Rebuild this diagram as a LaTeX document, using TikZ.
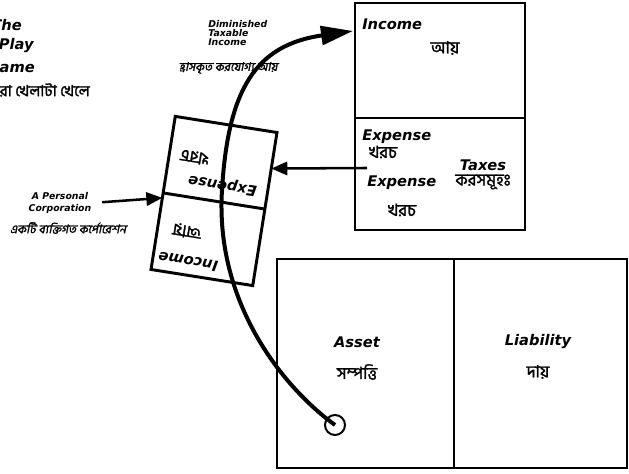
\documentclass[tikz,border=0pt]{standalone}
\usepackage{fontspec}
\setsansfont{DejaVu Sans}
\newfontfamily\bn{Hind Siliguri}[Script=Bengali,FakeBold=1.6]
\newfontfamily\bnsl{Hind Siliguri}[Script=Bengali,FakeSlant=0.2,FakeBold=1.6]
\usetikzlibrary{arrows.meta,positioning}

\begin{document}
\begin{tikzpicture}[x=0.75pt,y=0.75pt,
    panel/.style={draw,line width=2.2pt},
    lab/.style={font=\sffamily\bfseries\itshape\fontsize{11}{13}\selectfont,inner sep=0pt},
    bnlab/.style={font=\bn\fontsize{12.5}{14}\selectfont,inner sep=0pt},
    small/.style={font=\sffamily\bfseries\itshape\fontsize{7}{6.75}\selectfont,inner sep=0pt},
    bnsmall/.style={font=\bnsl\fontsize{9}{11}\selectfont,inner sep=0pt},
    flow/.style={line width=3pt,-{Triangle[length=24pt,width=14pt]}},
    link/.style={line width=1.9pt,-{Triangle[length=12pt,width=10pt]}},
    ring/.style={draw,circle,line width=1.5pt,minimum size=15pt,inner sep=0pt}]
                                \useasboundingbox (0,0) rectangle (629,474);
                                % title, cut off by the left margin
                                \node[lab,anchor=east] (the) at (22,449) {The};
                                \node[lab,anchor=east] (play) at (34,428) {Play};
                                \node[lab,anchor=east] (game) at (35,407) {Game};
                                \node[bnlab,anchor=east,font=\bn\fontsize{11.5}{13}\selectfont] (khela) at (90,384) {তারা খেলাটা খেলে};

                                % income statement
                                \draw[panel] (355,244) rectangle (525,471);
                                \draw[panel] (355,356) -- (525,356);
                                \node[lab,anchor=west] (income) at (362,450) {Income};
                                \node[bnlab] (aay) at (445,426) {আয়};
                                \node[lab,anchor=west] (exp1) at (362,337) {Expense};
                                \node[bnlab] (khoroch1) at (383,322) {খরচ};
                                \node[lab] (taxes) at (483,309) {Taxes};
                                \node[bnlab] (kor) at (483,292) {করসমূহঃ};
                                \node[lab,anchor=west] (exp2) at (367,291) {Expense};
                                \node[bnlab] (khoroch2) at (402,264) {খরচ};
                                \coordinate (taxout) at (367,306);
                                \coordinate (inc-in) at (353,443);

                                % balance sheet
                                \draw[panel] (277,6) rectangle (627,215);
                                \draw[panel] (454,6) -- (454,215);
                                \node[lab] (asset) at (357,132) {Asset};
                                \node[bnlab] (sompotti) at (357,102) {সম্পত্তি};
                                \node[lab] (liab) at (538,132) {Liability};
                                \node[bnlab] (daay) at (538,102) {দায়};

                                % the corporation, turned upside down
                                \begin{scope}[shift={(214,273)},rotate=171,transform shape]
                                \draw[panel] (-51.5,-77.5) rectangle (51.5,77.5);
                                \draw[panel] (-51.5,0) -- (51.5,0);
                                \node[lab] (mincome) at (16,64) {Income};
                                \node[bnlab] (maay) at (22,34) {আয়};
                                \node[lab] (mexp) at (-6,-17) {Expense};
                                \node[bnlab] (mkhoroch) at (26,-40) {খরচ};
                                \coordinate (mini-in) at (51.5,5);
                                \coordinate (mini-tax) at (-51.5,-41);
                                \end{scope}

                                \node[small,align=left,anchor=west] (dti) at (208,441) {Diminished\\Taxable\\Income};
                                \node[bnsmall] (dtibn) at (228,406) {হ্রাসকৃত করযোগ্য আয়};
                                \node[small,align=center,font=\sffamily\bfseries\itshape\fontsize{7}{9}\selectfont] (corp) at (60,271) {A Personal\\Corporation};
                                \node[bnsmall] (corpbn) at (68,246) {একটি ব্যক্তিগত কর্পোরেশন};

                                \node[ring] (dot) at (335,49) {};
                                \draw[flow] (dot.center) .. controls (280,89) and (215,174) .. (222,284)
                                      .. controls (228,384) and (255,429) .. (inc-in);
                                \draw[link,shorten <=8pt] (corp.east) -- (mini-in);
                                \draw[link] (taxout) -- (mini-tax);
                            \end{tikzpicture}
\end{document}
